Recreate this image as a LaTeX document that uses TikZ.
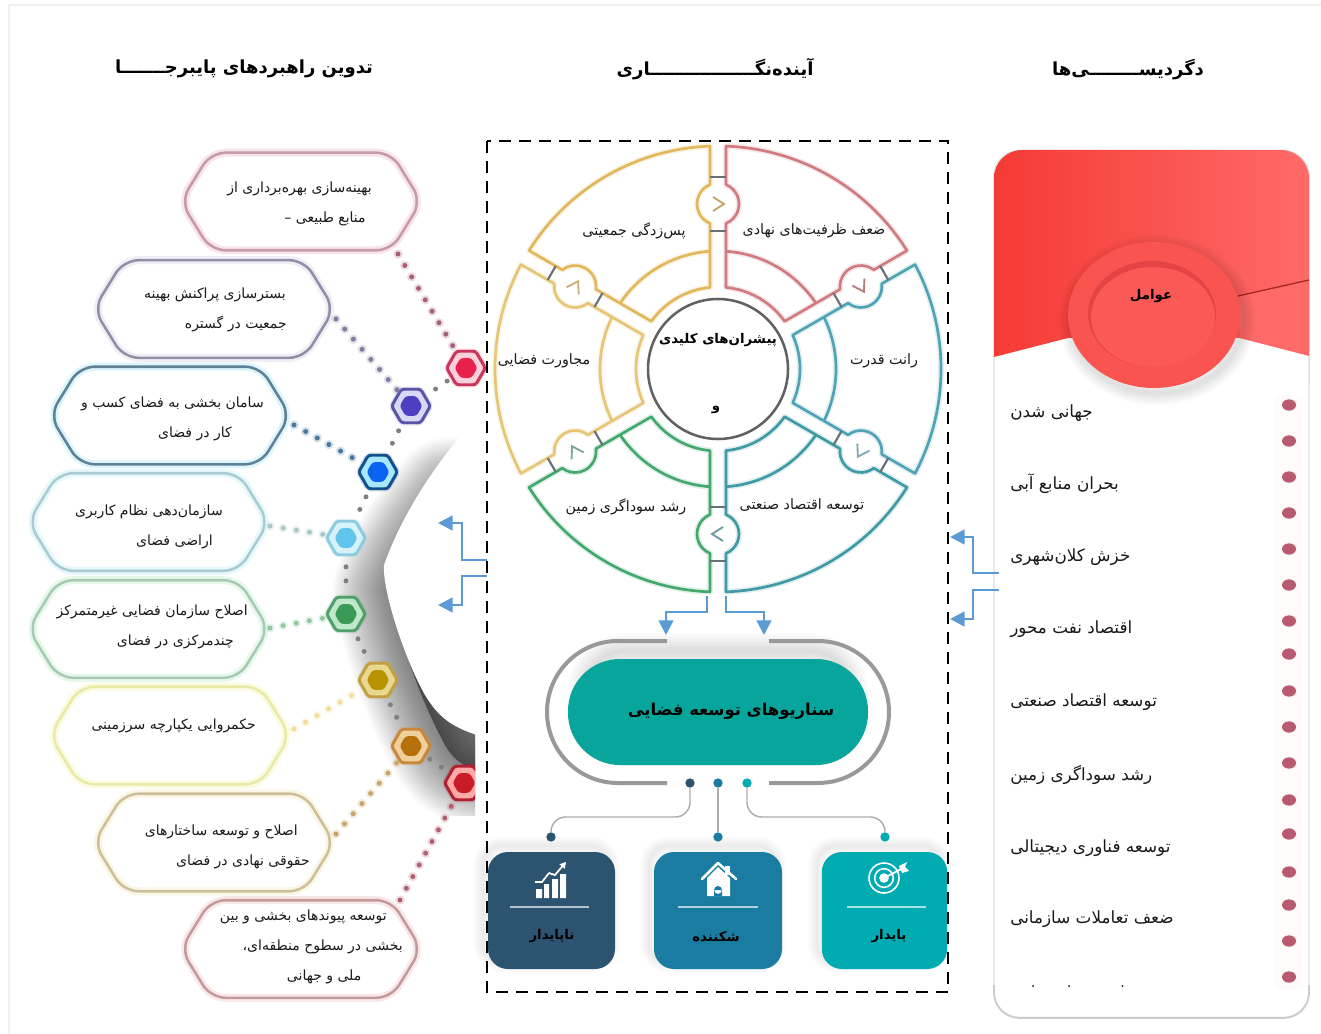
\documentclass[tikz,border=0pt]{standalone}
\usepackage{fontspec}
\usetikzlibrary{arrows.meta,calc,shapes.geometric}
\TeXXeTstate=1
\newfontfamily\fa[Script=Arabic]{DejaVu Sans}
\newcommand\RL[1]{\beginR #1\endR}
\newcommand\dc[2]{\definecolor{#1}{HTML}{#2}}
\dc{bluearr}{5B9BD5}\dc{pilltl}{07A59B}\dc{cardA}{2C5370}\dc{cardB}{1A7CA0}\dc{cardC}{00ABB2}
\dc{tiegray}{6A7078}\dc{segR}{D07B80}\dc{segB}{4FA3B5}\dc{segT}{3F9AA5}\dc{segG}{44A86E}\dc{segY}{E6C574}\dc{segO}{E2B75C}
\dc{redL}{F53A35}\dc{redR}{FF6A68}\dc{redRing}{E44444}
\dc{hOa}{C8345A}\dc{hMa}{FFD0DC}\dc{hIa}{E8204C}
\dc{hOb}{5A54A8}\dc{hMb}{D8D8F4}\dc{hIb}{4C40C0}
\dc{hOc}{10508F}\dc{hMc}{A8E8FF}\dc{hIc}{0A64F0}
\dc{hOd}{8CCCE0}\dc{hMd}{D8F2FA}\dc{hId}{60C4EC}
\dc{hOe}{4FA06A}\dc{hMe}{C0E8C8}\dc{hIe}{3A9A58}
\dc{hOf}{C0A040}\dc{hMf}{E8D890}\dc{hIf}{B89400}
\dc{hOg}{C8883C}\dc{hMg}{F0D09A}\dc{hIg}{B8700C}
\dc{hOh}{B02030}\dc{hMh}{FFA8A8}\dc{hIh}{C81C28}
\dc{bb1}{C49AAC}\dc{bg1}{F8E4EA}\dc{bb2}{8F8FA8}\dc{bg2}{EEEEF4}\dc{bb3}{5F8095}\dc{bg3}{DCF4FB}\dc{bb4}{A8CCD2}\dc{bg4}{E6F8FB}
\dc{bb5}{A9C9B4}\dc{bg5}{E6F8EA}\dc{bb6}{E9E9A8}\dc{bg6}{FBFBE0}\dc{bb7}{CDBF9A}\dc{bg7}{FBF6E4}\dc{bb8}{C59A9C}\dc{bg8}{FAE8E8}
\dc{dd1}{A8607A}\dc{dd2}{7E7E9E}\dc{dd3}{4A7A9E}\dc{dd4}{A8C8C8}\dc{dd5}{90C8A0}\dc{dd6}{F2DE98}\dc{dd7}{C8A468}\dc{dd8}{B06070}
\dc{pinkdot}{B95A70}
\tikzset{
  txt/.style={font=\fa\fontsize{10.5}{22.5}\selectfont,inner sep=0pt,align=right,text=black!90,yshift=-1.3pt},
  wtxt/.style={font=\fa\fontsize{10.7}{14}\selectfont,inner sep=0pt,align=center,text=black!90,yshift=-.7pt},
  rtxt/.style={font=\fa\fontsize{12.6}{16}\selectfont,inner sep=0pt,anchor=west,text=black!90,yshift=-1.3pt},
  btxt/.style={font=\fa\bfseries\fontsize{10}{14}\selectfont,inner sep=0pt,align=center,text=black},
  headtxt/.style={font=\fa\bfseries\fontsize{13.5}{16}\selectfont,inner sep=0pt,text=black},
  boxcore/.style={minimum width=180pt,minimum height=72.75pt,inner sep=0pt},
  hexn/.style={regular polygon,regular polygon sides=6,inner sep=0pt,rounded corners=2pt},
  dotl/.style={line width=3.75pt,line cap=round,dash pattern=on 0pt off 10pt},
  halo/.style={line width=7pt,line cap=round,dash pattern=on 0pt off 10pt,opacity=.22},
  chaindot/.style={line width=3.75pt,line cap=round,dash pattern=on 0pt off 10.5pt,draw=black!50},
  arr/.style={draw=bluearr,line width=1.9pt,-{Triangle[length=11pt,width=11pt]}},
  conn/.style={draw=black!32,line width=1.1pt,rounded corners=11pt},
}
\newcommand\segpath{(24.4:82) -- (26.86:145.8) arc[start angle=232.4,end angle=367.6,radius=15.75pt] -- (27.93:223) arc[start angle=27.93,end angle=-27.93,radius=167.25pt] -- (-27.52:184.6) arc[start angle=-7.6,end angle=127.6,radius=15.75pt] -- (-24.4:82) arc[start angle=-24.4,end angle=24.4,radius=61.5pt] -- cycle (-26.1:118) arc[start angle=-26.1,end angle=26.1,radius=88.5pt]}
\newcommand\seg[2]{\begin{scope}[shift={(718,369)},x=.75pt,y=.75pt,rotate=#1]
  \draw[#2,line width=4.5pt,opacity=.16,line join=round] \segpath;
  \draw[#2,line width=2pt,line join=round] \segpath;
\end{scope}}
\newcommand\hexbox[5]{
  \node[boxcore] (#1) at (#2,#3) {};
  \draw[#5,line width=6pt,rounded corners=11pt,line join=round] (#1.west) -- ($(#1.north west)+(30,0)$) -- ($(#1.north east)+(-30,0)$) -- (#1.east) -- ($(#1.south east)+(-30,0)$) -- ($(#1.south west)+(30,0)$) -- cycle;
  \draw[#4,line width=1.9pt,rounded corners=11pt,line join=round] (#1.west) -- ($(#1.north west)+(30,0)$) -- ($(#1.north east)+(-30,0)$) -- (#1.east) -- ($(#1.south east)+(-30,0)$) -- ($(#1.south west)+(30,0)$) -- cycle;
}
\newcommand\hexdot[6]{
  \node[hexn,minimum size=29pt,draw=#4,line width=4pt,opacity=.2] (#1g) at (#2,#3) {};
  \node[hexn,minimum size=29pt,draw=#4,fill=#5,line width=2.2pt] (#1) at (#2,#3) {};
  \node[hexn,minimum size=17pt,fill=#6] (#1i) at (#2,#3) {};
}
\begin{document}
\begin{tikzpicture}[x=.75pt,y=-.75pt]
\useasboundingbox (0,0) rectangle (1321,1034);
\fill[white] (0,0) rectangle (1321,1034);
\draw[black!6,line width=1pt] (9,1034) -- (9,5) -- (1321,5);

% ---- shadow blob ----
\begin{scope}
  \clip (280,425) rectangle (475,815);
  \fill[black,opacity=.42] (450,495) .. controls (425,525) and (402,555) .. (390,590)
      .. controls (400,640) and (418,695) .. (445,745) .. controls (455,762) and (465,772) .. (520,778) -- (520,495) -- cycle;
  \foreach \w in {86,83,...,2}{
    \draw[black,opacity=.019,line join=round,line width=\w pt]
      (450,495) .. controls (425,525) and (402,555) .. (390,590)
      .. controls (400,640) and (418,695) .. (445,745) .. controls (455,762) and (465,772) .. (520,778) -- (520,495) -- cycle;
  }
\end{scope}
\begin{scope}
  \clip (300,400) rectangle (476,800);
  \fill[white] (500,405) -- (470,425) .. controls (430,470) and (400,520) .. (384,565)
     .. controls (382,590) and (405,660) .. (425,695) .. controls (440,720) and (455,728) .. (480,736) -- (500,736) -- cycle;
\end{scope}

% ---- text boxes ----
\hexbox{b1}{301}{201.5}{bb1}{bg1}
\hexbox{b2}{214}{309}{bb2}{bg2}
\hexbox{b3}{170}{415.5}{bb3}{bg3}
\hexbox{b4}{148.5}{522}{bb4}{bg4}
\hexbox{b5}{148.5}{629}{bb5}{bg5}
\hexbox{b6}{170}{735.5}{bb6}{bg6}
\hexbox{b7}{214}{842.5}{bb7}{bg7}
\hexbox{b8}{301}{949}{bb8}{bg8}

% ---- hexagons ----
\hexdot{h1}{466}{368}{hOa}{hMa}{hIa}
\hexdot{h2}{411}{406}{hOb}{hMb}{hIb}
\hexdot{h3}{378}{472}{hOc}{hMc}{hIc}
\hexdot{h4}{346}{538}{hOd}{hMd}{hId}
\hexdot{h5}{346}{614}{hOe}{hMe}{hIe}
\hexdot{h6}{378}{680}{hOf}{hMf}{hIf}
\hexdot{h7}{411}{746}{hOg}{hMg}{hIg}
\begin{scope}
  \clip (400,700) rectangle (475,830);
  \hexdot{h8}{464}{783}{hOh}{hMh}{hIh}
\end{scope}

% box-to-hex dots
\coordinate (c1) at (398,254);
\coordinate (c2) at (336,319);
\coordinate (c3) at (294,425);
\coordinate (c4) at (270,526);
\coordinate (c5) at (270,628);
\coordinate (c6) at (294,729);
\coordinate (c7) at (336,834);
\coordinate (c8) at (400,900);
\foreach \n in {1,...,8}{
  \draw[halo,draw=dd\n] (c\n) -- (h\n);
  \draw[dotl,draw=dd\n] (c\n) -- (h\n);
}
\draw[chaindot,shorten <=3.5pt,shorten >=3.5pt] (h1) -- (h2);
\draw[chaindot,shorten <=5.5pt,shorten >=5.5pt] (h2) -- (h3);
\draw[chaindot,shorten <=5.5pt,shorten >=5.5pt] (h3) -- (h4);
\draw[chaindot,shorten <=8pt,shorten >=8pt] (h4) -- (h5);
\draw[chaindot,shorten <=5.5pt,shorten >=5.5pt] (h5) -- (h6);
\draw[chaindot,shorten <=5.5pt,shorten >=5.5pt] (h6) -- (h7);
\draw[chaindot,shorten <=3.5pt,shorten >=3.5pt] (h7) -- (h8);

% box texts
\node[txt,anchor=east] (t1) at (372,202) {\RL{بهینه‌سازی بهره‌برداری از}\\\RL{منابع طبیعی –}\hspace*{4.5pt}};
\node[txt,anchor=east] (t2) at (287,308) {\RL{بسترسازی پراکنش بهینه}\hspace*{.75pt}\\\RL{جمعیت در گستره}};
\node[txt,anchor=east] (t3) at (264,417) {\RL{سامان بخشی به فضای کسب و}\\\RL{کار در فضای}\hspace*{24pt}};
\node[txt,anchor=east] (t4) at (223,525) {\RL{سازمان‌دهی نظام کاربری}\\\RL{اراضی فضای}\hspace*{7.5pt}};
\node[txt,anchor=east] (t5) at (248,625) {\RL{اصلاح سازمان فضایی غیرمتمرکز}\\\RL{چندمرکزی در فضای}\hspace*{10.5pt}};
\begin{scope}
  \clip (100,650) rectangle (250,665);
  \node[txt,anchor=east] (t5b) at (208,672) {\RL{کلان‌شهری}};
\end{scope}
\node[txt,anchor=east] (t6) at (256,724) {\RL{حکمروایی یکپارچه سرزمینی}};
\node[txt,anchor=east] (t7) at (310,845) {\RL{اصلاح و توسعه ساختارهای}\hspace*{9pt}\\\RL{حقوقی نهادی در فضای}};
\node[txt,anchor=east] (t8) at (403,945) {\RL{توسعه پیوندهای بخشی و بین}\hspace*{12pt}\\\RL{بخشی در سطوح منطقه‌ای،}\\\RL{ملی و جهانی}\hspace*{31pt}};

% ---- headings ----
\node[headtxt] (hA) at (244,69) {\RL{تدوین راهبردهای پایبرجـــــــا}};
\node[headtxt] (hB) at (715,69) {\RL{آینده‌نگـــــــــــــــــاری}};
\node[headtxt] (hC) at (1128,70) {\RL{دگردیســــــــی‌ها}};

% ---- wheel ----
\seg{60}{segR}
\seg{0}{segB}
\seg{-60}{segT}
\seg{-120}{segG}
\seg{180}{segY}
\seg{120}{segO}
\foreach \r/\c in {0/segO!70!gray,-60/segR!70!gray,-120/segB!60!gray!80,-180/segT!60!gray!90,-240/segG!50!gray!80,-300/segY!70!gray}{
  \begin{scope}[shift={(718,369)},x=.75pt,y=.75pt,rotate=\r]
    \draw[tiegray,line width=1.6pt] (-8,138) -- (8,138) (-8,192) -- (8,192);
    \draw[\c,line width=1.4pt,line join=miter] (-5,172) -- (6,165) -- (-5,158);
  \end{scope}
}
\node[circle,draw=black!62,line width=1.9pt,minimum size=105pt,inner sep=0pt] (core) at (718,369) {};
\node[btxt] (coreA) at (718,340) {\RL{پیشران‌های کلیدی}};
\node[btxt] (coreB) at (716,410) {\RL{و}};
\node[wtxt] (s1) at (814,230) {\RL{ضعف ظرفیت‌های نهادی}};
\node[wtxt] (s2) at (884,360) {\RL{رانت قدرت}};
\node[wtxt] (s3) at (802,505) {\RL{توسعه اقتصاد صنعتی}};
\node[wtxt] (s4) at (626,506) {\RL{رشد سوداگری زمین}};
\node[wtxt] (s5) at (544,360) {\RL{مجاورت فضایی}};
\node[wtxt] (s6) at (634,230) {\RL{پس‌زدگی جمعیتی}};

% ---- pill ----
\foreach \w in {26,22,...,2}{
  \draw[black,opacity=.02,line width=\w pt,rounded corners=30pt] (586,651) rectangle (850,750);
}
\node[draw=none,fill=pilltl,rounded corners=39pt,minimum width=225pt,minimum height=79.5pt,inner sep=0pt] (pill) at (718,712) {};
\node[btxt,font=\fa\bfseries\fontsize{12.3}{15}\selectfont] (pillt) at (731,711) {\RL{سناریوهای توسعه فضایی}};
\draw[black!40,line width=3pt] (667,641) -- (618,641) arc[start angle=90,end angle=270,radius=53.25pt] -- (667,783);
\draw[black!40,line width=3pt] (769,641) -- (818,641) arc[start angle=90,end angle=-90,radius=53.25pt] -- (769,783);

% ---- cards ----
\foreach \x/\X in {488/615,654/782,822/947}{
  \foreach \w in {14,11,...,2}{
    \draw[black,opacity=.016,line width=\w pt,rounded corners=15pt] (\x-5,846) rectangle (\X-5,963);
  }
}
\node[fill=cardA,rounded corners=15pt,minimum width=95.25pt,minimum height=87.75pt,inner sep=0pt] (cA) at (551.5,910.5) {};
\node[fill=cardB,rounded corners=15pt,minimum width=96pt,minimum height=87.75pt,inner sep=0pt] (cB) at (718,910.5) {};
\node[fill=cardC,rounded corners=15pt,minimum width=94pt,minimum height=87.75pt,inner sep=0pt] (cC) at (884.5,910.5) {};
\draw[white!65!cardA,line width=1pt] (510,907) -- (589,907);
\draw[white!65!cardB,line width=1pt] (678,907) -- (758,907);
\draw[white!65!cardC,line width=1pt] (847,907) -- (926,907);
\node[btxt] (cAt) at (552,936) {\RL{ناپایدار}};
\node[btxt] (cBt) at (716,937) {\RL{شکننده}};
\node[btxt] (cCt) at (889,936) {\RL{پایدار}};
% icons
\fill[white] (536,889) rectangle (542,898) (544,884) rectangle (549,898) (552,879) rectangle (558,898) (560,874) rectangle (566,898);
\draw[cardA,line width=2.4pt,line join=round] (535,884) -- (542,884) -- (549,875) -- (555,877) -- (563,867);
\draw[white,line width=1.3pt,line join=round,-{Triangle[length=4.5pt,width=5pt]}] (535,882) -- (542,882) -- (549,873) -- (555,875) -- (566,862);
\fill[white] (707,878) -- (718,867) -- (730,878) -- (730,896) -- (707,896) -- cycle;
\fill[cardB] (714,896) rectangle (722,890) (718,890) circle[radius=3pt];
\fill[white] (725,866) rectangle (730,875);
\draw[white,line width=1.9pt,line join=round,line cap=round] (702,879) -- (718,863) -- (736,879);
\draw[white,line width=1.2pt] (884,878) circle[radius=11.25pt] (884,878) circle[radius=7pt];
\fill[white] (884,878) circle[radius=3.6pt];
\draw[white,line width=1.4pt] (884,878) -- (905,867);
\fill[white] (899,866) -- (907,862) -- (905,867) -- (909,871) -- (902,873) -- cycle;

% pill dots
\node[circle,fill=cardA,minimum size=7pt,inner sep=0pt] (d1) at (690,783) {};
\node[circle,fill=cardB,minimum size=7pt,inner sep=0pt] (d2) at (718,783) {};
\node[circle,fill=cardC,minimum size=7pt,inner sep=0pt] (d3) at (747,783) {};
\node[circle,fill=cardA,minimum size=7pt,inner sep=0pt] (e1) at (551,837) {};
\node[circle,fill=cardB,minimum size=7pt,inner sep=0pt] (e2) at (718,837) {};
\node[circle,fill=cardC,minimum size=7pt,inner sep=0pt] (e3) at (885,837) {};
\coordinate (ml) at (0,817);
\draw[conn] (d1.south) -- (d1.south |- ml) -- (e1.north |- ml) -- (e1.north);
\draw[conn] (d2.south) -- (e2.north);
\draw[conn] (d3.south) -- (d3.south |- ml) -- (e3.north |- ml) -- (e3.north);

% ---- right card ----
\node[fill=white,draw=black!12,line width=1pt,rounded corners=19pt,minimum width=236.25pt,minimum height=650pt,inner sep=0pt] (rcard) at (1151.5,584) {};
\draw[black!20,line width=1.3pt,rounded corners=19pt] (994,985) -- (994,1018) -- (1309,1018) -- (1309,985);
\fill[red!1.5] (1275,395) rectangle (1303,990);
\path[left color=redL,right color=redR,rounded corners=21pt] (994,357) -- (994,150) -- (1309,150) -- (1309,355) [sharp corners] -- (1309,356) -- (1240,338) -- (1068,338) -- cycle;
\fill[redR] (1238,296) -- (1309,280) -- (1309,355) -- (1240,338) -- cycle;
\draw[red!60!black!85,line width=1pt] (1238,296) -- (1309,280);
\foreach \w in {18,15,...,2}{
  \draw[black,opacity=.018,line width=\w pt] (1157,320) ellipse[x radius=64.5pt,y radius=54.75pt];
}
\fill[redR!55!redL] (1154,315) ellipse[x radius=64.5pt,y radius=54.75pt];
\fill[redRing] (1152,314) ellipse[x radius=48pt,y radius=39.75pt];
\fill[redR!65!redL] (1153,317) ellipse[x radius=46.5pt,y radius=37.5pt];
\node[btxt] (ra) at (1151,296) {\RL{عوامل}};
\foreach \n/\yy in {1/405,2/441,3/477,4/513,5/549,6/585,7/621,8/654,9/691,10/727,11/763,12/800,13/834,14/872,15/905,16/941,17/977}{
  \node[ellipse,fill=pinkdot,minimum width=10.5pt,minimum height=8.5pt,inner sep=0pt] (pd\n) at (1289,\yy) {};
}
\node[rtxt] (r1) at (1010,411) {\RL{جهانی شدن}};
\node[rtxt] (r2) at (1010,482) {\RL{بحران منابع آبی}};
\node[rtxt] (r3) at (1010,555) {\RL{خزش کلان‌شهری}};
\node[rtxt] (r4) at (1010,627) {\RL{اقتصاد نفت محور}};
\node[rtxt] (r5) at (1010,700) {\RL{توسعه اقتصاد صنعتی}};
\node[rtxt] (r6) at (1010,773) {\RL{رشد سوداگری زمین}};
\node[rtxt] (r7) at (1010,846) {\RL{توسعه فناوری دیجیتالی}};
\node[rtxt] (r8) at (1010,917) {\RL{ضعف تعاملات سازمانی}};
\begin{scope}
  \clip (1000,970) rectangle (1280,986);
  \node[rtxt] (r9) at (1010,992) {\RL{ضعف ظرفیت‌های نهادی}};
\end{scope}

% ---- dashed frame and arrows ----
\draw[black,line width=2.1pt,dash pattern=on 9pt off 6pt] (487,141) rectangle (948,992);
\coordinate (a1s) at (487,560); \coordinate (a1t) at (438,523);
\coordinate (a2s) at (487,576); \coordinate (a2t) at (438,605);
\coordinate (a3s) at (999,573); \coordinate (a3t) at (950,537);
\coordinate (a4s) at (999,590); \coordinate (a4t) at (950,619);
\coordinate (a5s) at (707,596); \coordinate (a5t) at (666,635);
\coordinate (a6s) at (726,596); \coordinate (a6t) at (764,635);
\draw[arr] (a1s) -| (462,523) -- (a1t);
\draw[arr] (a2s) -| (462,605) -- (a2t);
\draw[arr] (a3s) -| (973,537) -- (a3t);
\draw[arr] (a4s) -| (973,619) -- (a4t);
\draw[arr] (a5s) |- (666,612) -- (a5t);
\draw[arr] (a6s) |- (764,612) -- (a6t);
\end{tikzpicture}
\end{document}
